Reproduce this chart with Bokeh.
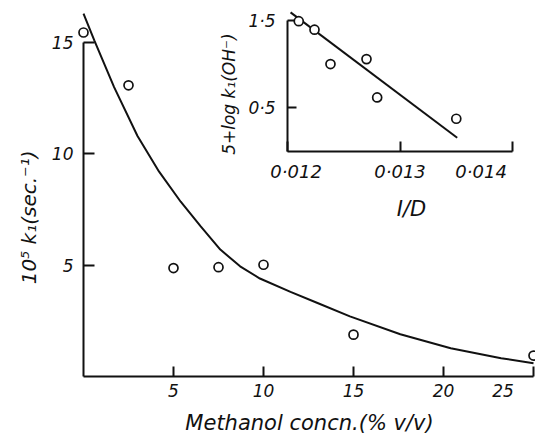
from bokeh.plotting import figure
from bokeh.models import FixedTicker, Range1d
from bokeh.layouts import column
from bokeh.embed import file_html
from bokeh.resources import INLINE

NBSP = "\u00a0"

# ---- main chart data ----
methanol_pct = [0, 2.5, 5, 7.5, 10, 15, 25]
k1_obs = [15.45, 13.08, 4.87, 4.91, 5.02, 1.88, 0.94]
curve_x = [0, 0.6, 1.7, 3.0, 4.2, 5.4, 6.5, 7.6, 8.7, 9.8, 11.5, 13.0, 14.8, 17.6, 20.4, 23.2, 25]
curve_y = [16.3, 15.1, 13.0, 10.8, 9.2, 7.85, 6.75, 5.7, 4.95, 4.4, 3.8, 3.3, 2.7, 1.9, 1.27, 0.82, 0.6]
main_x_ticks = [5, 10, 15, 20, 25]
main_x_labels = ["5", "10", "15", "20", "25" + NBSP * 4]
main_y_ticks = [5, 10, 15]

# ---- inset data ----
inv_D = [0.012100, 0.012240, 0.012382, 0.012702, 0.012797, 0.013500]
log_k = [1.492, 1.395, 1.001, 1.058, 0.619, 0.375]
fit_x = [0.012027, 0.013508]
fit_y = [1.593, 0.158]
inset_x_ticks = [0.012, 0.013, 0.014]
inset_x_labels = [NBSP * 3 + "0·012", "0·013", "0·014" + NBSP * 5]
inset_y_ticks = [0.5, 1.5]
inset_y_labels = ["0·5", "1·5"]

INK = "#111111"
FONT = "DejaVu Sans"


def style_axis(ax, tick_in, font_size, standoff):
    ax.axis_line_color = INK
    ax.axis_line_width = 2
    ax.major_tick_line_color = INK
    ax.major_tick_line_width = 2
    ax.major_tick_in = tick_in
    ax.major_tick_out = 0
    ax.minor_tick_line_color = None
    ax.major_label_text_font = FONT
    ax.major_label_text_font_style = "italic"
    ax.major_label_text_font_size = font_size
    ax.major_label_text_color = INK
    ax.major_label_standoff = standoff
    ax.axis_label_text_font = FONT
    ax.axis_label_text_font_style = "italic"
    ax.axis_label_text_color = INK


# ---- main figure ----
p = figure(width=535, height=437, x_range=Range1d(0, 25.11), y_range=Range1d(0, 15.72),
           output_backend="svg", toolbar_location=None,
           min_border_left=83, min_border_right=0, min_border_top=26, min_border_bottom=60,
           background_fill_color=None, border_fill_color=None, outline_line_color=None)
p.grid.visible = False

xa = p.xaxis[0]
style_axis(xa, 10, "17px", 4)
xa.ticker = FixedTicker(ticks=main_x_ticks)
xa.bounds = (0, 25)
xa.major_label_overrides = dict(zip(main_x_ticks, main_x_labels))
xa.axis_label = "Methanol concn.(% v/v)"
xa.axis_label_text_font_size = "21px"
xa.axis_label_standoff = 7

ya = p.yaxis[0]
style_axis(ya, 11, "17px", 10)
ya.ticker = FixedTicker(ticks=main_y_ticks)
ya.bounds = (0, 15)
ya.major_label_orientation = "horizontal"
ya.axis_label = "10⁵ k₁(sec.⁻¹)" + NBSP * 5
ya.axis_label_text_font_size = "20px"
ya.axis_label_standoff = 8

crv = p.line(curve_x, curve_y, line_color=INK, line_width=2)
crv.level = "overlay"
pts = p.scatter(methanol_pct, k1_obs, marker="circle", size=9, fill_color="white",
                line_color=INK, line_width=1.7)
pts.level = "overlay"

# ---- inset figure ----
INSET_LEFT = 204
INSET_H = 223
ins = figure(width=535 - INSET_LEFT, height=INSET_H,
             x_range=Range1d(0.012, 0.014204), y_range=Range1d(0, 1.5),
             output_backend="svg", toolbar_location=None,
             min_border_left=83, min_border_right=0, min_border_top=20, min_border_bottom=70,
             background_fill_color=None, border_fill_color=None, outline_line_color=None)
ins.grid.visible = False

ixa = ins.xaxis[0]
style_axis(ixa, 10, "18px", 9)
ixa.ticker = FixedTicker(ticks=inset_x_ticks)
ixa.bounds = (0.012, 0.014)
ixa.major_label_overrides = dict(zip(inset_x_ticks, inset_x_labels))
ixa.axis_label = "I/D"
ixa.axis_label_text_font_size = "21px"
ixa.axis_label_standoff = 12

iya = ins.yaxis[0]
style_axis(iya, 9, "17px", 12)
iya.ticker = FixedTicker(ticks=inset_y_ticks)
iya.bounds = (0, 1.5)
iya.major_label_orientation = "horizontal"
iya.major_label_overrides = dict(zip(inset_y_ticks, inset_y_labels))
iya.axis_label = "5+log k₁(OH⁻)" + NBSP * 3
iya.axis_label_text_font_size = "17px"
iya.axis_label_standoff = 6

fit = ins.line(fit_x, fit_y, line_color=INK, line_width=2)
fit.level = "overlay"
ipts = ins.scatter(inv_D, log_k, marker="circle", size=9, fill_color="white",
                   line_color=INK, line_width=1.7)
ipts.level = "overlay"

ins.margin = (0, 0, -INSET_H, INSET_LEFT)
p.margin = (0, 0, 0, 0)

layout = column(ins, p, spacing=0)

with open("out.html", "w") as f:
    f.write(file_html(layout, INLINE))
